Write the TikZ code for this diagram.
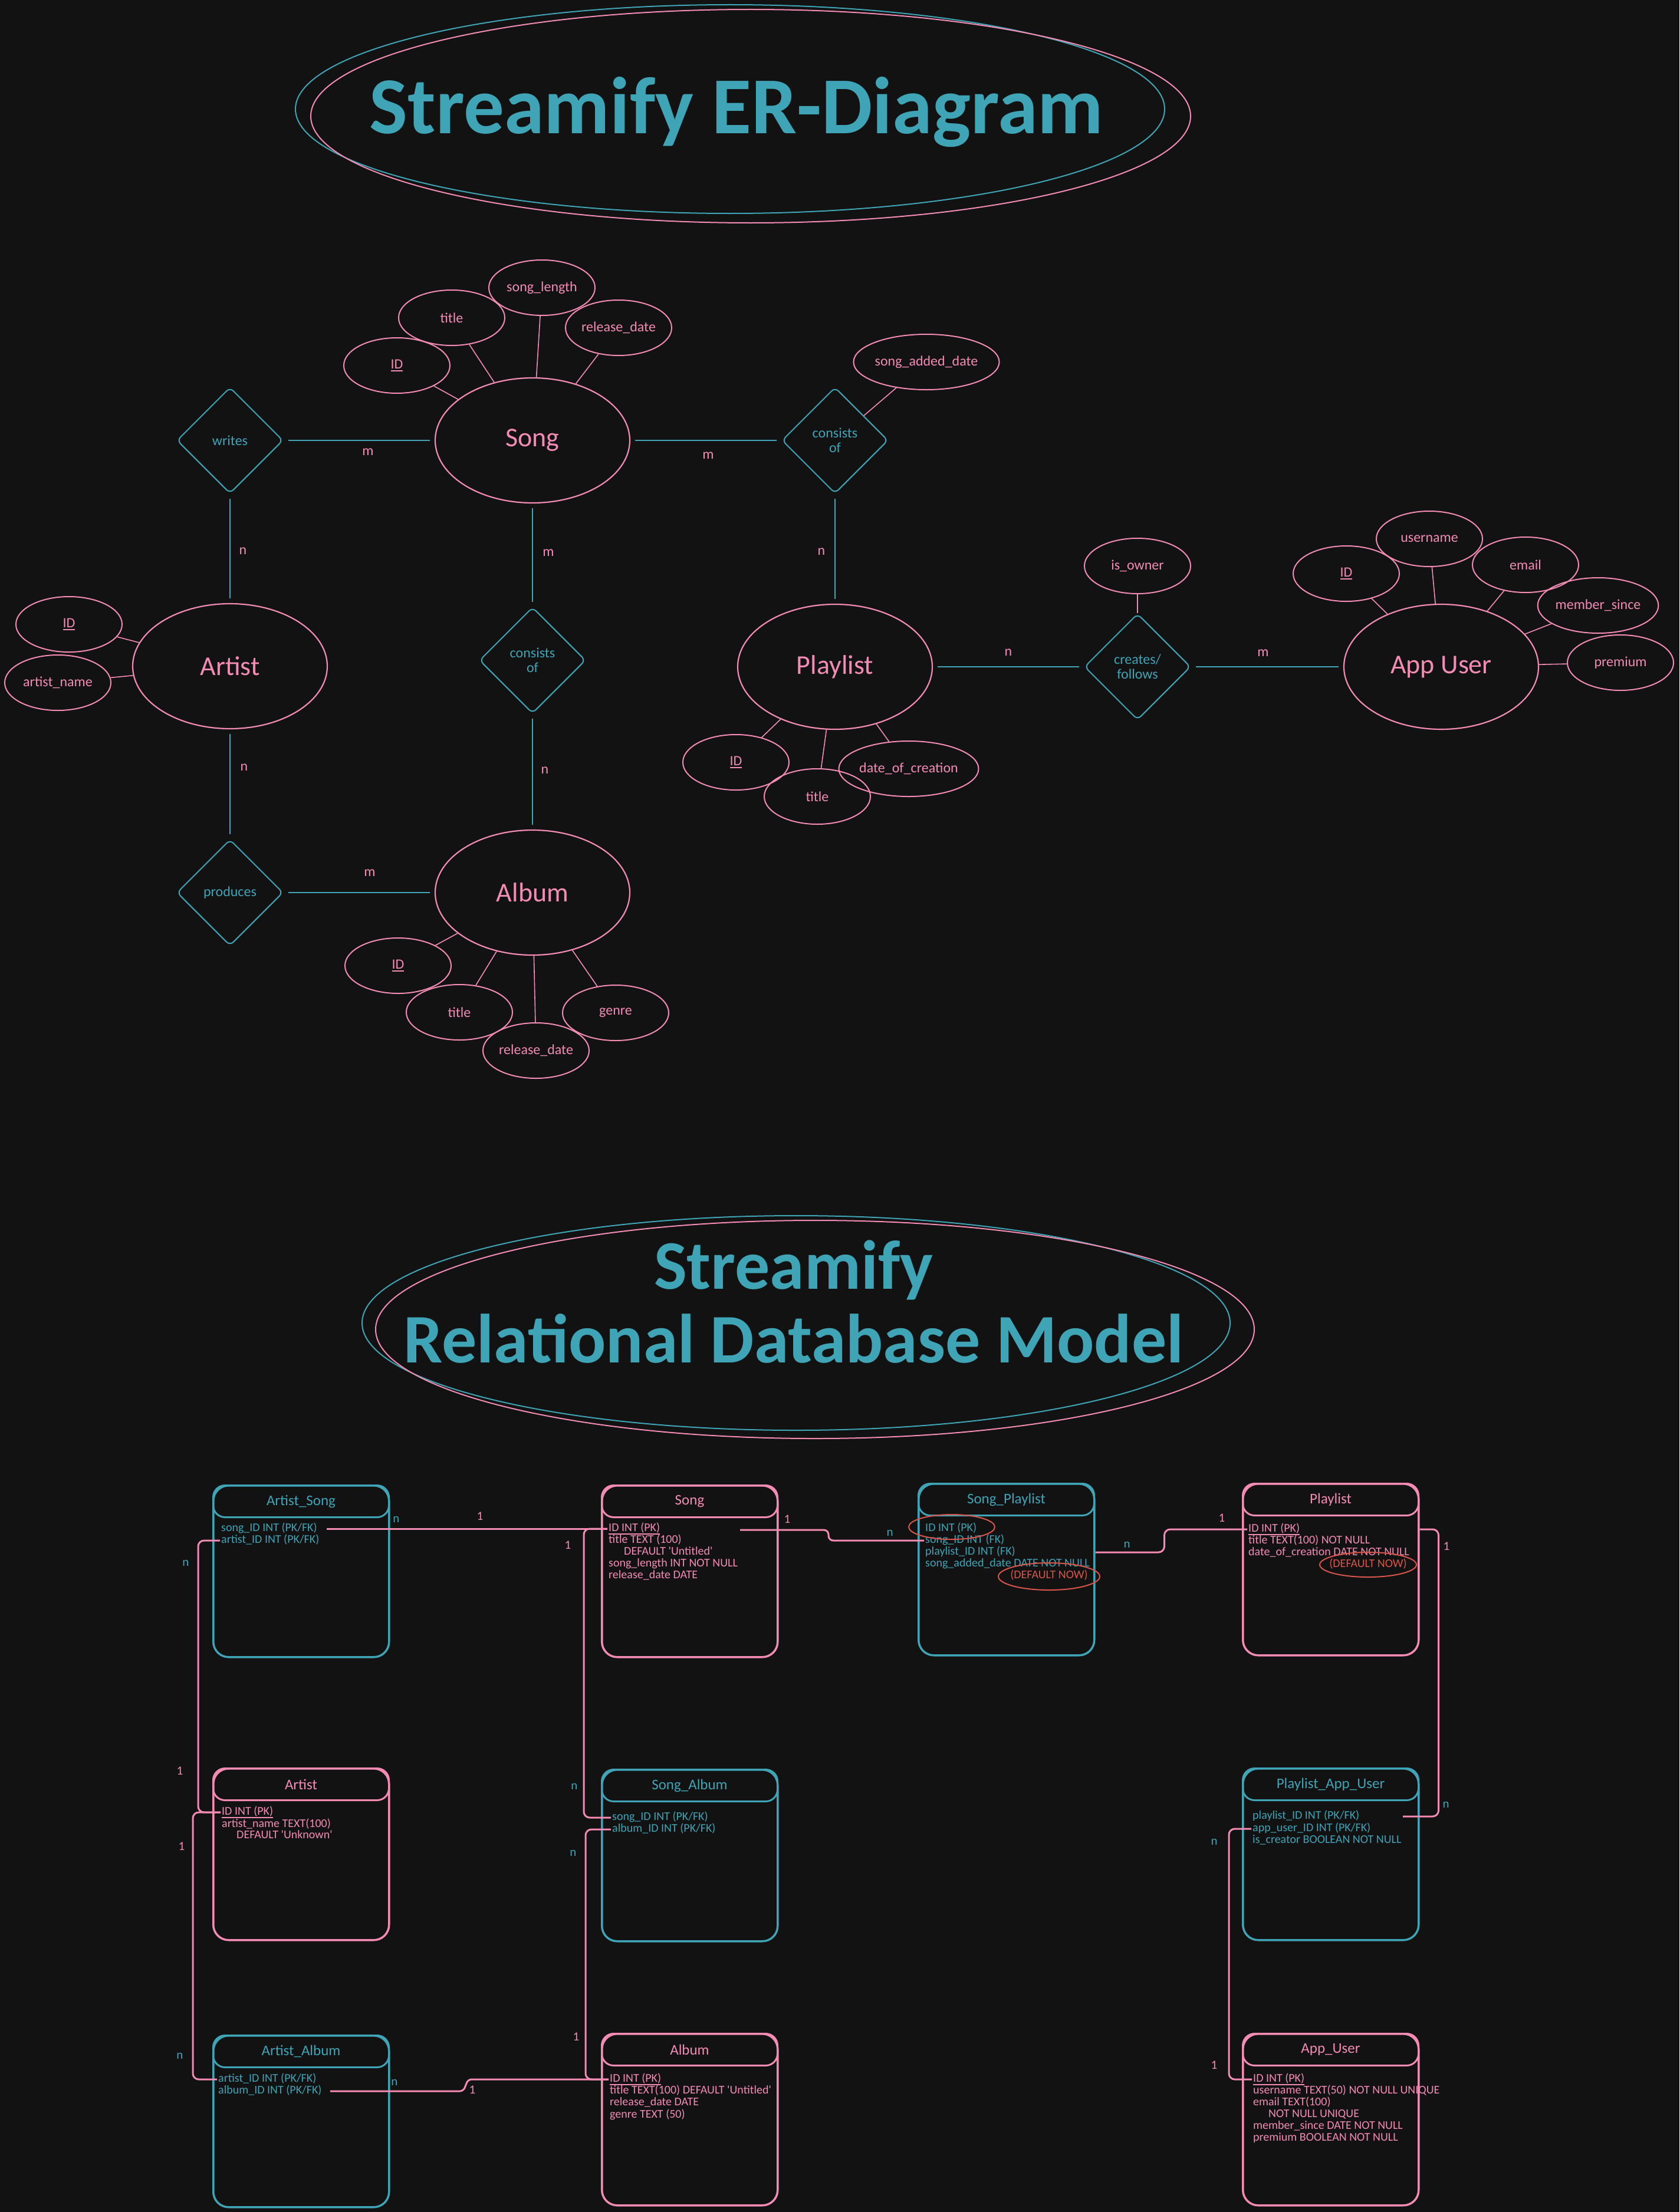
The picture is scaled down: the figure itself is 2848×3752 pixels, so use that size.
\documentclass[tikz,border=0pt]{standalone}
\usepackage{fontspec}
\setmainfont{Carlito}
\usetikzlibrary{shapes.geometric}
\definecolor{bg}{HTML}{121212}
\definecolor{tl}{HTML}{3FA4B6}
\definecolor{pk}{HTML}{F38BB3}
\definecolor{rd}{HTML}{D8554C}
\tikzset{
 attr/.style={ellipse, draw=pk, line width=2pt, text=pk, font=\fontsize{24}{26}\selectfont, inner sep=0pt, minimum width=180pt, minimum height=94pt},
 ent/.style={ellipse, draw=pk, line width=2.2pt, text=pk, font=\fontsize{46}{48}\selectfont, inner sep=0pt, minimum width=330pt, minimum height=212pt},
 relsh/.style={diamond, draw=tl, line width=2pt, rounded corners=8pt, text=tl, font=\fontsize{24}{25}\selectfont, align=center, minimum width=180pt, minimum height=180pt, inner sep=0pt},
 rline/.style={draw=tl, line width=2pt, shorten <=8pt, shorten >=8pt},
 aline/.style={draw=pk, line width=1.6pt},
 card/.style={text=pk, font=\fontsize{24}{26}\selectfont, inner sep=0pt},
 tbox/.style={draw=#1, line width=3.5pt, rounded corners=26pt, minimum width=298pt, minimum height=291pt, anchor=north west, inner sep=0pt},
 thead/.style={draw=#1, text=#1, line width=3pt, rounded corners=20pt, minimum width=298pt, minimum height=54pt, anchor=north west, inner sep=0pt, font=\fontsize{25}{27}\selectfont},
 body/.style={text=#1, anchor=west, font=\fontsize{20}{20}\selectfont, text height=13pt, text depth=4pt, inner sep=2pt},
 conn/.style={draw=pk, line width=3pt, rounded corners=10pt},
 lbl/.style={text=#1, font=\fontsize{21}{22}\selectfont, inner sep=0pt},
 redring/.style={ellipse, draw=rd, line width=2pt, inner sep=0pt},
 ttl/.style={text=tl, anchor=base, inner sep=0pt, font=\bfseries\fontsize{#1}{#1}\selectfont},
 ttlring/.style={ellipse, draw=#1, line width=2pt, inner sep=0pt}
}
\newcommand{\q}{\textquotesingle}
\newcommand{\ulx}[2][2pt]{\leavevmode\setbox0\hbox{#2}\rlap{\copy0}\rule[-5pt]{\wd0}{#1}}
\begin{document}
\begin{tikzpicture}[x=1pt,y=-1pt]
\fill[bg] (0,0) rectangle (2848,3752);
\useasboundingbox (0,0) rectangle (2848,3752);

% ---------- Title 1 ----------
\node[ttlring=tl, minimum width=1474pt, minimum height=354pt] (t1a) at (1238,185) {};
\node[ttlring=pk, minimum width=1492pt, minimum height=362pt] (t1b) at (1273,197) {};
\node[ttl=137] (erTitle) at (1249,226) {Streamify ER-Diagram};

% ---------- ER diagram ----------
\node[ent] (song) at (903,747) {Song};
\node[ent] (artist) at (390,1130) {Artist};
\node[ent] (album) at (903,1514) {Album};
\node[ent] (playlist) at (1416,1131) {Playlist};
\node[ent] (appuser) at (2444,1131) {App User};

\node[relsh] (writes) at (390,747) {writes};
\node[relsh] (cons1) at (903,1120) {consists\\of};
\node[relsh] (cons2) at (1416,747) {consists\\of};
\node[relsh] (creates) at (1929,1131) {creates/\\follows};
\node[relsh] (produces) at (390,1514) {produces};

\node[attr] (sIdE) at (673,620) {\ulx{ID}};
\node[attr] (sTitleE) at (766,539) {title};
\node[attr] (sLenE) at (919,488) {song\_length};
\node[attr] (sRelE) at (1049,556) {release\_date};

\node[attr] (aIdE) at (117,1059) {\ulx{ID}};
\node[attr] (aNameE) at (98,1158) {artist\_name};

\node[attr] (sadE) at (1571,614) {song\_added\_date};

\node[attr] (plIdE) at (1248,1293) {\ulx{ID}};
\node[attr] (plTitleE) at (1386,1351) {title};
\node[attr] (plDocE) at (1541,1304) {date\_of\_creation};

\node[attr] (ownerE) at (1929,960) {is\_owner};

\node[attr] (uIdE) at (2283,973) {\ulx{ID}};
\node[attr] (uNameE) at (2424,914) {username};
\node[attr] (uEmailE) at (2587,958) {email};
\node[attr] (uSinceE) at (2710,1027) {member\_since};
\node[attr] (uPremE) at (2748,1124) {premium};

\node[attr] (alIdE) at (675,1638) {\ulx{ID}};
\node[attr] (alTitleE) at (779,1717) {title};
\node[attr] (alRelE) at (909,1782) {release\_date};
\node[attr] (alGenreE) at (1044,1718) {genre};

\draw[rline] (writes) -- (song);
\draw[rline] (writes) -- (artist);
\draw[rline] (song) -- (cons1);
\draw[rline] (cons1) -- (album);
\draw[rline] (artist) -- (produces);
\draw[rline] (produces) -- (album);
\draw[rline] (song) -- (cons2);
\draw[rline] (cons2) -- (playlist);
\draw[rline] (playlist) -- (creates);
\draw[rline] (creates) -- (appuser);

\foreach \a/\b in {sIdE/song, sTitleE/song, sLenE/song, sRelE/song, aIdE/artist, aNameE/artist, sadE/cons2, plIdE/playlist, plTitleE/playlist, plDocE/playlist, ownerE/creates, uIdE/appuser, uNameE/appuser, uEmailE/appuser, uSinceE/appuser, uPremE/appuser, alIdE/album, alTitleE/album, alRelE/album, alGenreE/album}
  \draw[aline] (\a) -- (\b);

\node[card] (c1) at (624,767) {m};
\node[card] (c2) at (412,935) {n};
\node[card] (c3) at (930,938) {m};
\node[card] (c4) at (924,1307) {n};
\node[card] (c5) at (414,1302) {n};
\node[card] (c6) at (627,1481) {m};
\node[card] (c7) at (1201,773) {m};
\node[card] (c8) at (1393,936) {n};
\node[card] (c9) at (1710,1107) {n};
\node[card] (c10) at (2142,1108) {m};

% ---------- Title 2 ----------
\node[ttlring=tl, minimum width=1472pt, minimum height=364pt] (t2a) at (1350,2244) {};
\node[ttlring=pk, minimum width=1490pt, minimum height=370pt] (t2b) at (1382,2255) {};
\node[ttl=118] (rdTitleA) at (1346,2186) {Streamify};
\node[ttl=118] (rdTitleB) at (1346,2311) {Relational Database Model};

% ---------- Tables ----------
% Artist_Song
\node[tbox=tl] (asT) at (360,2518) {};
\node[thead=tl] (asH) at (360,2518) {Artist\_Song};
\node[body=tl] (asSong) at (373,2593) {song\_ID INT (PK/FK)};
\node[body=tl] (asArtist) at (373,2613) {artist\_ID INT (PK/FK)};
% Song
\node[tbox=pk] (sT) at (1019,2518) {};
\node[thead=pk] (sH) at (1019,2518) {Song};
\node[body=pk] (sId) at (1030,2593) {\ulx{ID INT (PK)}};
\node[body=pk] (sTitle) at (1030,2613) {title TEXT (100)};
\node[body=pk] (sDef) at (1056,2633) {DEFAULT \q Untitled\q};
\node[body=pk] (sLen) at (1030,2653) {song\_length INT NOT NULL};
\node[body=pk] (sRel) at (1030,2673) {release\_date DATE};
% Song_Playlist
\node[tbox=tl] (spT) at (1556,2515) {};
\node[thead=tl] (spH) at (1556,2515) {Song\_Playlist};
\node[body=tl] (spId) at (1567,2593) {ID INT (PK)};
\node[body=tl] (spSong) at (1567,2613) {song\_ID INT (FK)};
\node[body=tl] (spPl) at (1567,2633) {playlist\_ID INT (FK)};
\node[body=tl] (spDate) at (1567,2653) {song\_added\_date DATE NOT NULL};
\node[body=rd, anchor=center] (spNow) at (1779,2673) {(DEFAULT NOW)};
\node[redring, minimum width=146pt, minimum height=42pt] (spIdRing) at (1614,2590) {};
\node[redring, minimum width=172pt, minimum height=46pt] (spNowRing) at (1779,2674) {};
% Playlist
\node[tbox=pk] (pT) at (2106,2515) {};
\node[thead=pk] (pH) at (2106,2515) {Playlist};
\node[body=pk] (pId) at (2115,2594) {\ulx{ID INT (PK)}};
\node[body=pk] (pTitle) at (2115,2614) {title TEXT(100) NOT NULL};
\node[body=pk] (pDate) at (2115,2634) {date\_of\_creation DATE NOT NULL};
\node[body=rd, anchor=center] (pNow) at (2320,2654) {(DEFAULT NOW)};
\node[redring, minimum width=164pt, minimum height=42pt] (pNowRing) at (2320,2654) {};
% Artist
\node[tbox=pk] (aT) at (360,2998) {};
\node[thead=pk] (aH) at (360,2998) {Artist};
\node[body=pk] (aId) at (374,3074) {\ulx{ID INT (PK)}};
\node[body=pk] (aName) at (374,3095) {artist\_name TEXT(100)};
\node[body=pk] (aDef) at (399,3114) {DEFAULT \q Unknown\q};
% Song_Album
\node[tbox=tl] (saT) at (1019,3000) {};
\node[thead=tl] (saH) at (1019,3000) {Song\_Album};
\node[body=tl] (saSong) at (1036,3083) {song\_ID INT (PK/FK)};
\node[body=tl] (saAlbum) at (1036,3103) {album\_ID INT (PK/FK)};
% Playlist_App_User
\node[tbox=tl] (pauT) at (2106,2998) {};
\node[thead=tl] (pauH) at (2106,2998) {Playlist\_App\_User};
\node[body=tl] (pauPl) at (2122,3081) {playlist\_ID INT (PK/FK)};
\node[body=tl] (pauU) at (2122,3102) {app\_user\_ID INT (PK/FK)};
\node[body=tl] (pauC) at (2122,3122) {is\_creator BOOLEAN NOT NULL};
% Artist_Album
\node[tbox=tl] (aaT) at (360,3451) {};
\node[thead=tl] (aaH) at (360,3451) {Artist\_Album};
\node[body=tl] (aaArtist) at (368,3527) {artist\_ID INT (PK/FK)};
\node[body=tl] (aaAlbum) at (368,3547) {album\_ID INT (PK/FK)};
% Album
\node[tbox=pk] (alT) at (1019,3448) {};
\node[thead=pk] (alH) at (1019,3448) {Album};
\node[body=pk] (alId) at (1032,3527) {\ulx{ID INT (PK)}};
\node[body=pk] (alTitle) at (1032,3547) {title TEXT(100) DEFAULT \q Untitled\q};
\node[body=pk] (alRel) at (1032,3567) {release\_date DATE};
\node[body=pk] (alGenre) at (1032,3588) {genre TEXT (50)};
% App_User
\node[tbox=pk] (auT) at (2106,3448) {};
\node[thead=pk] (auH) at (2106,3448) {App\_User};
\node[body=pk] (auId) at (2123,3527) {\ulx{ID INT (PK)}};
\node[body=pk] (auName) at (2123,3547) {username TEXT(50) NOT NULL UNIQUE};
\node[body=pk] (auEmail) at (2123,3567) {email TEXT(100)};
\node[body=pk] (auNN) at (2149,3587) {NOT NULL UNIQUE};
\node[body=pk] (auSince) at (2123,3607) {member\_since DATE NOT NULL};
\node[body=pk] (auPrem) at (2123,3627) {premium BOOLEAN NOT NULL};

% ---------- Connectors ----------
\coordinate (sOut) at (1255,2595);
\coordinate (pauIn) at (2379,3081);
\draw[conn] ([xshift=14pt]asSong.east) -- (sId.west);
\draw[conn] (asArtist.west) -- ++(-37,0) |- (aId.west);
\draw[conn] (aId.west) -- ++(-47,0) |- (aaArtist.west);
\draw[conn] (sId.west) -- ++(-40,0) |- (saSong.west);
\draw[conn] (saAlbum.west) -- ++(-43,0) |- (alId.west);
\draw[conn, rounded corners=6pt] ([xshift=12pt]aaAlbum.east) -- ++(226,0) -- ++(8,-20) -- (alId.west);
\draw[conn, rounded corners=8pt] (sOut) -- ++(150,0) |- (spSong.west);
\draw[conn] (spT.east |- spPl.west) -- ++(117,0) |- (pId.west);
\draw[conn] (pT.east |- pId.west) -- ++(32,0) |- (pauIn);
\draw[conn] (pauU.west) -- ++(-38,0) |- (auId.west);

\node[lbl=tl] (l1) at (672,2577) {n};
\node[lbl=pk] (l2) at (814,2572) {1};
\node[lbl=tl] (l3) at (315,2651) {n};
\node[lbl=pk] (l4) at (305,3004) {1};
\node[lbl=pk] (l5) at (308,3132) {1};
\node[lbl=tl] (l6) at (305,3487) {n};
\node[lbl=pk] (l7) at (963,2621) {1};
\node[lbl=tl] (l8) at (974,3030) {n};
\node[lbl=tl] (l9) at (972,3143) {n};
\node[lbl=pk] (l10) at (977,3455) {1};
\node[lbl=tl] (l11) at (669,3532) {n};
\node[lbl=pk] (l12) at (801,3545) {1};
\node[lbl=pk] (l13) at (1335,2577) {1};
\node[lbl=tl] (l14) at (1509,2600) {n};
\node[lbl=tl] (l15) at (1911,2620) {n};
\node[lbl=pk] (l16) at (2072,2575) {1};
\node[lbl=pk] (l17) at (2453,2623) {1};
\node[lbl=tl] (l18) at (2452,3061) {n};
\node[lbl=tl] (l19) at (2059,3124) {n};
\node[lbl=pk] (l20) at (2059,3503) {1};
\end{tikzpicture}
\end{document}
